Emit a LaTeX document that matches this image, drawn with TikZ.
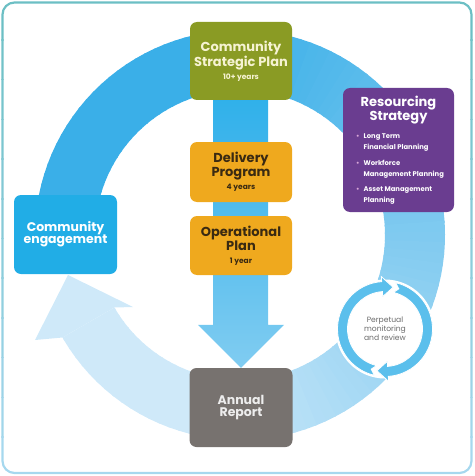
\documentclass[tikz,border=0pt]{standalone}
\usepackage{fontspec}
\setmainfont{Poppins}
\usetikzlibrary{calc,backgrounds}
\definecolor{ringdark}{HTML}{3AAFE8}
\definecolor{ringlight}{HTML}{CFE9F9}
\definecolor{cspgreen}{HTML}{8A9B24}
\definecolor{csptext}{HTML}{F6F3D2}
\definecolor{gold}{HTML}{EFA91E}
\definecolor{goldtext}{HTML}{3A2A12}
\definecolor{purp}{HTML}{6A3D90}
\definecolor{bulletpink}{HTML}{D8A6D8}
\definecolor{engblue}{HTML}{21ADE6}
\definecolor{repgray}{HTML}{77726F}
\definecolor{monblue}{HTML}{5BBFEC}
\definecolor{montext}{HTML}{6B6B6B}
\definecolor{frametop}{HTML}{A6D8EE}
\definecolor{framebot}{HTML}{6CBFC4}
\definecolor{shafttop}{HTML}{2FB0EA}
\definecolor{shaftbot}{HTML}{80CCF1}
\begin{document}
\begin{tikzpicture}[x=1pt,y=-1pt,
  box/.style={rounded corners=7pt, inner sep=0pt, align=center, font=\bfseries},
  monarrow/.style={fill=monblue, draw=white, line width=0.8pt}]
\useasboundingbox (0,0) rectangle (474,476);

% boxes
\node[box, fill=cspgreen, text=csptext, minimum width=102pt, minimum height=78pt] (csp) at (241,61)
  {\fontsize{13}{14.5}\selectfont Community\\\fontsize{13}{14.5}\selectfont Strategic Plan\\[1pt]\fontsize{7.5}{9}\selectfont 10+ years};
\node[box, fill=gold, text=goldtext, minimum width=102pt, minimum height=60pt] (deliv) at (241,172)
  {\fontsize{13}{13.5}\selectfont Delivery\\\fontsize{13}{13.5}\selectfont Program\\[1pt]\fontsize{7.5}{9}\selectfont 4 years};
\node[box, fill=gold, text=goldtext, minimum width=102pt, minimum height=59pt] (oper) at (241,245.5)
  {\fontsize{13}{13.5}\selectfont Operational\\\fontsize{13}{13.5}\selectfont Plan\\[1pt]\fontsize{7.5}{9}\selectfont 1 year};
\node[box, fill=engblue, text=white, minimum width=103pt, minimum height=79pt] (eng) at (65.5,234.5)
  {\fontsize{12.5}{14.5}\selectfont Community\\\fontsize{12.5}{14.5}\selectfont engagement};
\node[box, fill=repgray, text=white!93!black, minimum width=103pt, minimum height=79pt] (annual) at (241,407.5)
  {\fontsize{12.5}{15}\selectfont Annual\\\fontsize{12.5}{15}\selectfont Report};
\node[box, fill=purp, minimum width=111pt, minimum height=124pt] (res) at (398.5,150) {};
\node[align=center, text=white, inner sep=0pt, font=\bfseries\fontsize{13}{14.5}\selectfont] (restitle) at (398.5,110)
  {Resourcing\\Strategy};
\node[anchor=north west, inner sep=0pt, text=white, font=\bfseries\fontsize{6.8}{11}\selectfont] (reslist) at (356,131)
  {\begin{tabular}{@{}l@{\hspace{4pt}}l@{}}
   \textcolor{bulletpink}{•} & Long Term\\
   & Financial Planning\\[4.5pt]
   \textcolor{bulletpink}{•} & Workforce\\
   & Management Planning\\[4.5pt]
   \textcolor{bulletpink}{•} & Asset Management\\
   & Planning
   \end{tabular}};

% monitoring circle
\coordinate (monc) at (385,329);
\begin{scope}[shift={(monc)}]
  \fill[white] (0,0) circle[radius=49.5];
  \foreach \s in {0,180} {
    \pgfmathsetmacro\ta{\s+103}
    \pgfmathsetmacro\tb{\s+266}
    \pgfmathsetmacro\tt{\s+281}
    \pgfmathsetmacro\tn{\s+109}
    \filldraw[monarrow] (\ta:37.5) arc[start angle=\ta, end angle=\tb, radius=37.5]
      -- (\tb:32.5) -- (\tt:42.5) -- (\tb:52.5) -- (\tb:47.5)
      arc[start angle=\tb, end angle=\ta, radius=47.5] -- (\tn:42.5) -- cycle;
  }
\end{scope}
\node[align=center, text=montext, inner sep=0pt, font=\fontsize{7.6}{9}\selectfont] (mon) at (monc)
  {Perpetual\\monitoring\\and review};

\begin{pgfonlayer}{background}
  % frame with vertical colour gradient
  \foreach \i in {0,...,11} {
    \pgfmathtruncatemacro\q{100-\i*100/11}
    \begin{scope}
      \clip (0,\i*39.7) rectangle (474,\i*39.7+40.2);
      \draw[framebot!\q!frametop, line width=2.2pt, rounded corners=12pt] (2.5,2.5) rectangle (471.5,473);
    \end{scope}
  }
  % big ring
  \begin{scope}[shift={(240,235)}]
    \foreach \a in {185,188,...,509} {
      \pgfmathtruncatemacro\p{\a<265 ? 100 : (\a>465 ? 0 : (465-\a)/2)}
      \pgfmathsetmacro\b{min(\a+3.6,510)}
      \fill[ringdark!\p!ringlight] (\a:145) arc[start angle=\a, end angle=\b, radius=145]
        -- (\b:205) arc[start angle=\b, end angle=\a, radius=205] -- cycle;
    }
  \end{scope}
  \coordinate (ringheadtip) at (68,275);
  \fill[ringlight] (114.4,307.5) -- (133,307) -- (ringheadtip) -- (35,340) -- (62.5,337.5) -- cycle;
  % central arrow
  \shade[top color=shafttop, bottom color=shaftbot]
    ($(csp.south)+(-28,-5)$) -- ($(csp.south)+(27,-5)$) -- ($(annual.north)+(27,-43)$)
    -- ($(annual.north)+(43,-43)$) -- (annual.north) -- ($(annual.north)+(-43,-43)$)
    -- ($(annual.north)+(-28,-43)$) -- cycle;
\end{pgfonlayer}
\end{tikzpicture}
\end{document}
